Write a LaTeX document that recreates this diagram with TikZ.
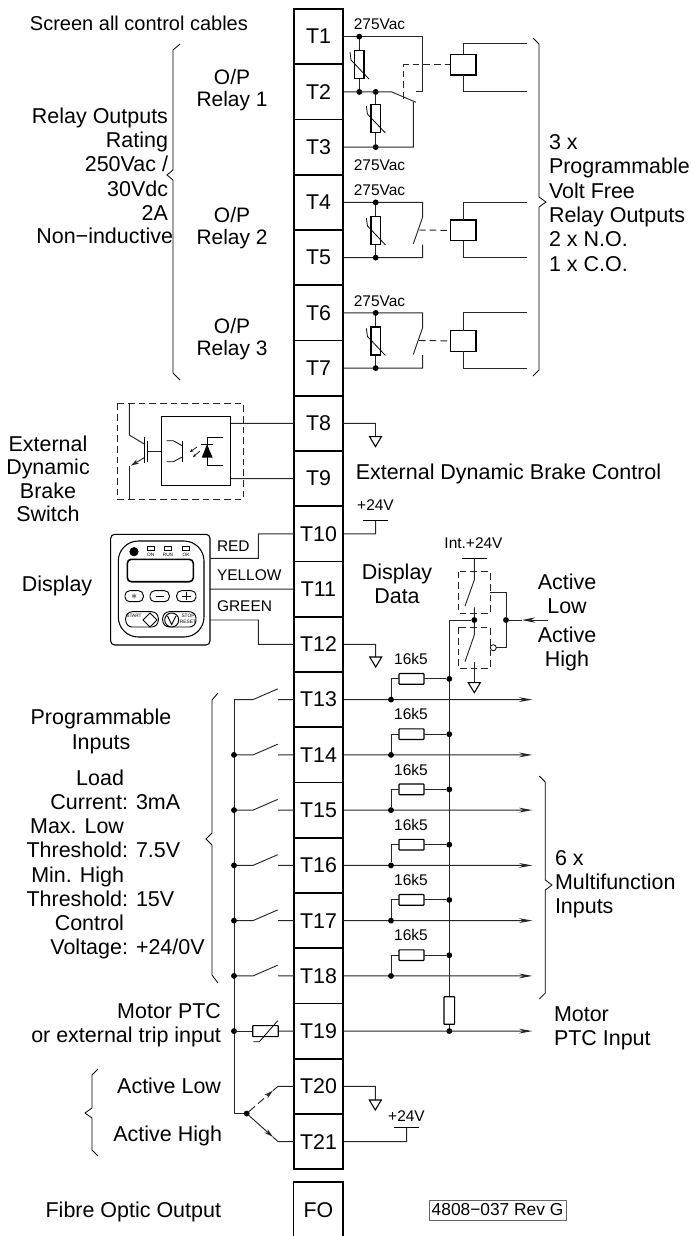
\documentclass[tikz,border=0pt]{standalone}
\usepackage{fontspec}
\setmainfont{Liberation Sans}
\usetikzlibrary{arrows.meta,positioning,shapes.geometric}
\tikzset{
  term/.style={draw,line width=1.4pt,outer sep=0pt,minimum width=37.2pt,minimum height=41.44pt,inner sep=0pt,font=\fontsize{16}{18}\selectfont},
  wire/.style={line width=0.7pt,black!85},
  lbl/.style={inner sep=0pt,outer sep=0pt,align=center,font=\fontsize{16.1}{18.2}\selectfont},
  lblclose/.style={inner sep=0pt,outer sep=0pt,align=center,font=\fontsize{15.7}{16.7}\selectfont},
  tiny/.style={inner sep=0pt,outer sep=0pt,font=\fontsize{11.6}{13}\selectfont},
  jn/.style={circle,fill=black,inner sep=0pt,minimum size=4.4pt,outer sep=0pt},
  res/.style={draw,fill=white,line width=0.9pt,rounded corners=0.5pt,minimum width=18.7pt,minimum height=8pt,inner sep=0pt,outer sep=0pt},
  coil/.style={draw,fill=white,line width=1pt,minimum width=19pt,minimum height=15.5pt,inner sep=0pt,outer sep=0pt},
  dashbox/.style={line width=0.7pt,black!85,dash pattern=on 5pt off 3pt},
  sig/.style={wire,-{Stealth[length=10pt,width=3.6pt]}},
  brace/.style={line width=0.6pt},
  keycap/.style={draw,line width=0.7pt,rounded corners=3.5pt},
  mini/.style={inner sep=0pt,outer sep=0pt,font=\fontsize{3.6}{4}\selectfont},
  pics/gnd/.style={code={\draw[line width=0.8pt] (-6,0)--(6,0)--(0,10)--cycle;}},
  pics/varistor/.style={code={
    \draw[fill=white,line width=0.9pt] (-4.7,-14) rectangle (4.7,14);
    \draw[line width=0.6pt] (-9.3,-12.5)--(-8.3,-4.5)--(9.7,14.5);}}
}
\begin{document}
\begin{tikzpicture}[x=0.75pt,y=-0.75pt]
\useasboundingbox (0,0) rectangle (692,1236);
\node[term] (T1) at (318.5,36.6) {T1};
\foreach \n [remember=\n as \m (initially 1)] in {2,...,21}
  \node[term,below=0pt of T\m] (T\n) {T\n};
\node[lbl,font=\fontsize{16}{18}\selectfont] (FO) at (318.5,1210) {FO};
\draw[line width=1.4pt] (293.5,1236) |- (343,1182) -- (343,1236);

\node[lbl,font=\fontsize{15}{18}\selectfont,anchor=base west] (screen) at (30,30) {Screen all control cables};
\node[lbl,anchor=east,align=right] (rating) at (168,164) {Relay Outputs\\Rating\\250Vac /\\30Vdc\\2A};
\node[lbl,anchor=base east] (noninductive) at (173,243) {Non−inductive};
\node[lblclose] (op1) at (232,90) {O/P\\Relay 1};
\node[lblclose] (op2) at (232,228) {O/P\\Relay 2};
\node[lblclose] (op3) at (232,339) {O/P\\Relay 3};
\draw[brace] (180,44)--(173,50)--(173,170)--(167,175)--(173,180)--(173,373)--(180,380);
\draw[brace] (533,38)--(539,44)--(539,197)--(546,202)--(539,207)--(539,370)--(533,376);
\node[lbl,align=left,anchor=west] (relays) at (549,203) {3 x\\Programmable\\Volt Free\\Relay Outputs\\2 x N.O.\\1 x C.O.};

% relay 1
\draw[wire] (T1.east)--(422.7,36.6)--(422.7,91.9)--(416,91.9);
\draw[wire] (359.3,36.6)--(359.3,91.9);
\pic at (359.3,64.5) {varistor};
\node[jn] (a1) at (359.3,36.6) {};
\node[jn] (a2) at (359.3,91.9) {};
\node[jn] (b2) at (375.7,91.9) {};
\node[jn] (b3) at (375.7,147.1) {};
\draw[wire] (T2.east)--(391.7,91.9)--(416,102.3);
\draw[wire] (T3.east)--(413.3,147.1)--(413.3,102);
\draw[wire] (b2)--(b3);
\pic at (375.7,118.5) {varistor};
\draw[dashbox] (403.7,98.5)--(403.7,64.7)--(450.7,64.7);
\node[coil] (K1) at (463.3,64.7) {};
\draw[wire] (K1.north)--(463.3,43.7)--(526.7,43.7);
\draw[wire] (K1.south)--(463.3,91.9)--(526.7,91.9);
\node[tiny] (v1) at (379.5,24) {275Vac};
\node[tiny] (v2) at (379.5,165) {275Vac};
\node[tiny] (v3) at (379.5,190) {275Vac};
\node[tiny] (v4) at (379.5,300.7) {275Vac};

% relays 2 and 3
\foreach \a/\b/\ya/\yb in {4/5/202.4/257.6,6/7/312.9/368.1}{
  \draw[wire] (T\a.east)--(422.7,\ya)--(422.7,{\ya+14.5})--(413.3,{\ya+41.5});
  \draw[wire] (T\b.east)--(422.7,\yb)--(422.7,{\yb-13});
  \draw[wire] (375.7,\ya)--(375.7,\yb);
  \pic at (375.7,{\ya+28}) {varistor};
  \node[jn] (c\a) at (375.7,\ya) {};
  \node[jn] (c\b) at (375.7,\yb) {};
  \node[coil] (K\a) at (463.3,{\ya+28}) {};
  \draw[dashbox] (419,{\ya+27.6})--(K\a.west);
  \draw[wire] (K\a.north)--(463.3,\ya)--(526.7,\ya);
  \draw[wire] (K\a.south)--(463.3,\yb)--(526.7,\yb);
}

% brake
\draw[dashbox] (117.3,403.3) rectangle (243.3,499.3);
\node[draw,line width=1pt,minimum width=52pt,minimum height=51.7pt,inner sep=0pt,outer sep=0pt] (opto) at (196,451.2) {};
\draw[wire] (230.7,423.4)--(T8.west);
\draw[wire] (230.7,478.6)--(T9.west);
\draw[wire] (161.3,451.7)--(147.7,451.7);
\draw[wire] (129.3,403.3)--(129.3,435)--(144.3,444);
\draw[wire,-{Stealth[length=6pt,width=3.6pt]}] (144.3,457.7)--(131,465.5);
\draw[wire] (129.3,466)--(129.3,499.3);
\draw[line width=0.8pt] (144.3,436.7)--(144.3,463.3);
\draw[line width=0.8pt] (147.7,441)--(147.7,461.7);
\draw[line width=0.6pt] (166.7,440.7)--(173.3,440.7)--(182.7,446);
\draw[line width=0.6pt] (182.7,440.7)--(182.7,461.7);
\draw[line width=0.6pt] (182.7,456.7)--(173.3,461.7)--(166.7,461.7);
\draw[line width=0.5pt,-{Stealth[length=2.4pt,width=2pt]}] (197,447)--(190,452);
\draw[line width=0.5pt,-{Stealth[length=2.4pt,width=2pt]}] (200,451)--(193,457);
\fill (201.7,457.7)--(212.7,457.7)--(207,444.3)--cycle;
\draw[line width=0.7pt] (200.7,444.3)--(213.3,444.3);
\draw[line width=0.6pt] (222.7,437.3)--(207,437.3)--(207,465)--(222.7,465);
\draw[wire] (T8.east)--(375.5,423.4)--(375.5,436.6);
\pic at (375.5,436.6) {gnd};
\node[lbl] (brakectl) at (508.5,474) {External Dynamic Brake Control};
\node[lbl,font=\fontsize{16.1}{17.6}\selectfont] (brakesw) at (48,479) {External\\Dynamic\\Brake\\Switch};

% display
\draw[line width=0.8pt,rounded corners=3pt] (110.7,534.3) rectangle (210,645);
\draw[line width=0.8pt,rounded corners=15pt] (118.3,541) rectangle (204,637);
\fill (134,551.7) circle (4.6);
\foreach \xk/\tk in {150.7/ON,168/RUN,186/OK}{
  \draw[line width=0.5pt] (\xk-3.5,546) rectangle (\xk+3.5,550);
  \node[mini] at (\xk,554.5) {\tk};
}
\draw[line width=1.2pt,rounded corners=3pt] (127.3,559.3) rectangle (193.3,581.7);
\draw[keycap] (125,590.7) rectangle (143.3,601.7);
\draw[keycap] (150,590.7) rectangle (169.3,601.7);
\draw[keycap] (176.7,590.7) rectangle (196,601.7);
\node[inner sep=0pt,font=\small] at (134.2,596.5) {$\ast$};
\draw[line width=0.6pt] (155.5,596.2)--(163.8,596.2);
\draw[line width=0.6pt] (182.2,596.2)--(190.5,596.2) (186.3,592)--(186.3,600.4);
\draw[keycap,rounded corners=5pt] (125.7,611.7) rectangle (158.3,627);
\draw[keycap,rounded corners=5pt] (162.7,611.7) rectangle (196,627);
\draw[line width=0.7pt,fill=white] (150,613)--(157,620)--(150,627)--(143,620)--cycle;
\draw[line width=0.7pt,fill=white] (171.7,620) circle (7);
\draw[line width=0.7pt] (167.5,616)--(171.7,624.5)--(175.9,616);
\node[mini] at (134,616) {START};
\node[mini] at (188,616) {STOP};
\node[mini] at (188,621.5) {RESET};
\draw[wire] (210,558.3)--(258.3,558.3)--(258.3,533.9)--(T10.west);
\draw[wire] (210,589.1)--(T11.west);
\draw[wire] (210,620)--(258.3,620)--(258.3,644.4)--(T12.west);
\node[tiny,anchor=west] (red) at (217,545.7) {RED};
\node[tiny,anchor=west] (yellow) at (217,575) {YELLOW};
\node[tiny,anchor=west] (green) at (217,606) {GREEN};
\node[lbl] (disp) at (57,586) {Display};
\node[lbl] (dispdata) at (397,584) {Display\\Data};
\draw[wire] (T10.east)--(375.7,533.9)--(375.7,520.7);
\draw[line width=0.9pt] (363,520.7)--(388,520.7);
\node[tiny] (p24a) at (375.5,505) {+24V};
\draw[wire] (T12.east)--(375.7,644.4)--(375.7,657);
\pic at (375.7,657) {gnd};

% switches
\node[tiny] (int) at (473.5,543.3) {Int.+24V};
\draw[line width=0.9pt] (462.3,558.3)--(486.7,558.3);
\draw[wire] (474.3,558.3)--(474.3,580)--(465,606);
\draw[wire] (474.3,607.3)--(474.3,635)--(465,661.7);
\draw[wire] (474.3,662)--(474.3,682.7);
\draw[dashbox] (458.7,571.7) rectangle (490.3,613.3);
\draw[dashbox] (458.7,627.3) rectangle (490.3,668.7);
\pic at (474.3,682.7) {gnd};
\node[jn] (sw) at (474.3,620) {};
\node[jn] (ctl) at (506,620) {};
\draw[wire,-{Stealth[length=10pt,width=4pt]}] (548.3,620)--(522,620);
\draw[wire] (522,620)--(ctl);
\draw[wire] (490.3,592.7)--(506,592.7)--(ctl);
\draw[wire] (ctl)--(506,647.7)--(496.3,647.7);
\draw[line width=0.6pt,fill=white] (493.3,647.7) circle (3);
\draw[wire] (sw)--(449.3,620)--(449.3,1031.1);
\node[lbl] (actlow) at (567,594) {Active\\Low};
\node[lbl] (acthigh) at (567,649) {Active\\High};

% inputs
\draw[wire] (253,699.6)--(234,699.6)--(234,1113.5)--(246.7,1113.5);
\foreach \n/\ya in {13/699.6,14/754.9,15/810.1,16/865.4,17/920.6,18/975.9}{
  \draw[wire] (234,\ya)--(253,\ya)--(277.7,{\ya-10.7});
  \draw[wire] (278,\ya)--(T\n.west);
  \draw[sig] (T\n.east)--(532.3,\ya);
  \node[jn] (d\n) at (391,\ya) {};
  \node[res] (R\n) at (411.5,{\ya-20.7}) {};
  \node[jn] (e\n) at (449.3,{\ya-20.7}) {};
  \draw[wire] (d\n)--(391,{\ya-20.7})--(R\n);
  \draw[wire] (R\n)--(e\n);
  \node[tiny] (k\n) at (411,{\ya-40.5}) {16k5};
}
\foreach \n/\ya in {14/754.9,15/810.1,16/865.4,17/920.6,18/975.9,19/1031.1}
  \node[jn] (f\n) at (234,\ya) {};
\draw[brace] (218,693)--(212,700)--(212,833)--(206,839)--(212,845)--(212,975)--(218,983);
\node[lbl] (progin) at (101,731.5) {Programmable\\Inputs};
\foreach \ya/\ltxt/\rtxt in {802.7/Current:/3mA,850/Threshold:/7.5V,899/Threshold:/15V,947.7/Voltage:/+24\slash 0V}{
  \node[lbl,anchor=base east] at (128,{\ya+7}) {\ltxt};
  \node[lbl,anchor=base west] at (136,{\ya+7}) {\rtxt};
}
\foreach \ya/\ltxt in {778/Load,826.7/Max. Low,875/Min. High,923/Control}
  \node[lbl,anchor=base east] at (124,{\ya+7}) {\ltxt};
\draw[brace] (539.3,776)--(545.3,782)--(545.3,880)--(552,885)--(545.3,890)--(545.3,993)--(539.3,999);
\node[lbl,align=left,anchor=west] (multi) at (555,884) {6 x\\Multifunction\\Inputs};

% T19 to T21
\draw[wire] (234,1031.1)--(253,1031.1);
\draw[wire] (278,1031.1)--(T19.west);
\draw[line width=0.9pt,fill=white,rounded corners=0.5pt] (252.7,1025.6) rectangle (278.3,1036.6);
\draw[line width=0.6pt] (253.3,1041.7)--(259.3,1041.7)--(277.7,1020.7);
\node[res,minimum width=8pt,minimum height=20.7pt] (Rptc) at (449.3,1010.5) {};
\node[jn] (ptc) at (449.3,1031.1) {};
\draw[sig] (T19.east)--(532.3,1031.1);
\node[lbl,anchor=east,align=right] (ptctxt) at (221,1025) {Motor PTC\\or external trip input};
\node[lbl,align=left,anchor=west] (ptcin) at (554,1028.5) {Motor\\PTC Input};
\node[jn] (sel) at (246.7,1113.5) {};
\draw[dashbox,dash pattern=on 6pt off 3pt,-{Stealth[length=7pt,width=3.6pt]}] (sel)--(273,1090.5);
\draw[wire] (273,1090.5)--(278,1086.4)--(T20.west);
\draw[wire,-{Stealth[length=7pt,width=3.6pt]}] (sel)--(273,1137);
\draw[wire] (273,1137)--(278,1141.6)--(T21.west);
\draw[wire] (T20.east)--(375.3,1086.4)--(375.3,1100);
\pic at (375.3,1100) {gnd};
\draw[wire] (T21.east)--(406.7,1141.6)--(406.7,1127.3);
\draw[line width=0.9pt] (394.3,1127.3)--(419.3,1127.3);
\node[tiny] (p24b) at (406.5,1116) {+24V};
\draw[brace] (98,1069)--(92,1075)--(92,1108)--(85,1113)--(92,1118)--(92,1150)--(98,1156);
\node[lbl,anchor=east] (lowtxt) at (221,1086) {Active Low};
\node[lbl,anchor=east] (hightxt) at (222,1136) {Active High};

\node[lbl,anchor=east] (fibre) at (221,1212) {Fibre Optic Output};
\node[draw=black!60,line width=0.7pt,font=\fontsize{13}{15}\selectfont,inner sep=0pt,outer sep=0pt,minimum width=102.7pt,minimum height=15pt] (rev) at (497.5,1210) {4808−037 Rev G};
\end{tikzpicture}
\end{document}
